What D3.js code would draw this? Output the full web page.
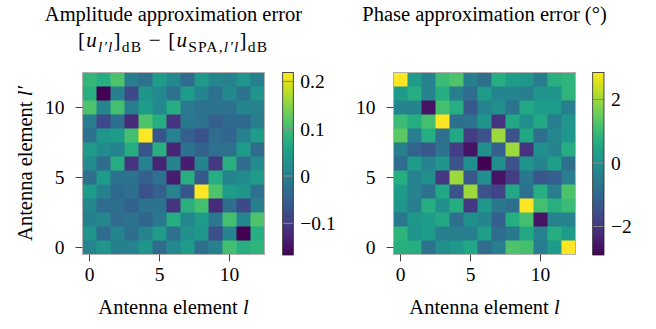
<!DOCTYPE html>
<html>
<head>
<meta charset="utf-8">
<script src="https://cdn.jsdelivr.net/npm/d3@7"></script>
<style>
  html, body { margin: 0; padding: 0; background: #fff; }
  svg { display: block; }
  text { font-family: "Liberation Serif", "Times New Roman", serif; fill: #000; }
</style>
</head>
<body>
<svg id="chart" width="656" height="329"></svg>
<script>
// Antenna element indices (l and l')
const elements = d3.range(13);
const tickVals = [0, 5, 10];

// Amplitude approximation error (dB); rows listed from l' = 12 (top) down to l' = 0
const ampRows = [
  [0.088, 0.072, 0.111, -0.005, -0.024, 0.045, 0.014, -0.032, 0.041, 0.011, 0.003, 0.034, -0.001],
  [0.076, -0.167, -0.001, -0.082, 0.034, 0.014, -0.024, 0.045, 0.007, -0.024, 0.014, -0.020, 0.034],
  [0.111, 0.007, 0.103, -0.005, 0.045, 0.014, 0.072, -0.009, -0.024, -0.020, -0.024, 0.007, 0.003],
  [-0.005, -0.082, -0.028, -0.121, 0.111, 0.072, -0.109, -0.013, -0.020, -0.051, -0.036, -0.036, -0.005],
  [-0.024, 0.034, 0.045, 0.103, 0.219, -0.063, 0.003, -0.051, -0.071, -0.032, -0.040, -0.001, 0.045],
  [0.045, 0.018, 0.007, 0.072, -0.063, 0.076, -0.128, -0.020, -0.047, -0.024, -0.024, 0.045, -0.032],
  [0.018, -0.032, 0.072, -0.109, 0.003, -0.128, 0.007, -0.136, 0.007, -0.105, 0.076, -0.032, 0.018],
  [-0.028, 0.045, -0.020, -0.020, -0.051, -0.024, -0.136, 0.076, -0.059, 0.072, 0.007, 0.018, 0.045],
  [0.045, -0.001, -0.036, -0.028, -0.071, -0.051, 0.007, -0.063, 0.219, 0.111, 0.045, 0.034, -0.024],
  [0.011, -0.032, -0.028, -0.047, -0.020, -0.020, -0.109, 0.076, 0.103, -0.121, -0.028, -0.082, -0.001],
  [-0.001, 0.011, -0.032, -0.020, -0.040, -0.013, 0.072, 0.011, 0.045, -0.013, 0.103, 0.011, 0.111],
  [0.034, -0.032, 0.007, -0.028, 0.007, 0.045, -0.024, 0.026, 0.038, -0.074, 0.007, -0.167, 0.072],
  [0.007, 0.034, -0.001, 0.003, 0.034, -0.032, 0.014, 0.045, -0.028, -0.001, 0.103, 0.076, 0.084]
];

// Phase approximation error (degrees); rows listed from l' = 12 (top) down to l' = 0
const phaseRows = [
  [2.85, 0.26, -0.37, 1.01, 1.24, -0.43, -0.83, 0.67, 0.26, 0.09, -0.49, 0.72, 0.84],
  [0.26, 0.67, -0.31, 0.67, -0.49, -0.89, 0.26, -0.31, -0.31, -0.43, 0.09, 0.09, 0.84],
  [-0.31, -0.31, -2.61, 1.13, 0.67, -1.35, -0.37, -0.03, -0.72, 0.55, 0.26, 0.26, -0.49],
  [1.01, 0.67, 1.13, 2.85, -0.83, -0.72, 0.09, -2.04, 0.55, -0.03, 0.55, -0.49, 0.09],
  [1.41, -0.49, 0.67, -0.83, 0.55, -1.87, -1.46, 1.99, -1.46, 0.55, -0.83, -0.26, 0.15],
  [-0.43, -1.06, -1.35, -0.72, -1.87, -2.61, -0.03, -1.18, 1.99, -2.04, -0.03, -0.31, 0.67],
  [-0.89, 0.26, -0.37, 0.09, -1.46, -0.03, -2.90, -0.03, -1.46, 0.09, -0.31, 0.32, -0.83],
  [0.67, -0.37, -0.03, -1.98, 1.99, -1.35, -0.03, -2.61, -1.87, -0.60, -1.35, -1.18, -0.49],
  [0.26, -0.37, -0.77, 0.55, -1.46, 1.99, -1.46, -1.75, 0.55, -0.77, 0.67, -0.49, 1.24],
  [0.09, -0.43, 0.67, -0.03, 0.67, -1.92, 0.15, -0.60, -0.83, 2.85, 1.13, 0.72, 1.01],
  [-0.60, 0.15, 0.26, 0.55, -0.83, -0.03, -0.31, -1.18, 0.67, 1.13, -2.61, -0.37, -0.37],
  [0.84, 0.09, 0.26, -0.43, -0.43, -0.43, 0.32, -0.89, -0.60, 0.55, -0.37, 0.67, 0.26],
  [0.72, 0.67, -0.72, -0.03, 0.15, 0.55, -0.89, -0.49, 1.24, 1.13, -0.49, 0.26, 2.85]
];

const ampTicks = [-0.1, 0, 0.1, 0.2];
const phaseTicks = [-2, 0, 2];

const svg = d3.select("#chart");
const defs = svg.append("defs");
const fmtMinus = s => String(s).replace("-", "\u2212");
const SERIF = "'Liberation Serif', 'Times New Roman', serif";

function heatmap(opts) {
  const { rows, x0, y0, size, cbX, cbW, ticks, tickFmt, gradId } = opts;
  const g = svg.append("g");
  const x = d3.scaleBand().domain(elements).range([x0, x0 + size]);
  const y = d3.scaleBand().domain(elements).range([y0 + size, y0]);
  const flat = [];
  rows.forEach((r, ri) => r.forEach((v, ci) => flat.push({ l: ci, lp: 12 - ri, v })));
  const ext = d3.extent(flat, d => d.v);
  const color = d3.scaleSequential(d3.interpolateViridis).domain(ext);

  g.selectAll("rect.cell").data(flat).join("rect")
    .attr("class", "cell")
    .attr("x", d => x(d.l))
    .attr("y", d => y(d.lp))
    .attr("width", x.bandwidth() + 0.5)
    .attr("height", y.bandwidth() + 0.5)
    .attr("fill", d => color(d.v));

  g.append("rect")
    .attr("x", x0).attr("y", y0).attr("width", size).attr("height", size)
    .attr("fill", "none").attr("stroke", "#b0b0b0").attr("stroke-width", 1);

  const xAxis = g.append("g").attr("transform", `translate(0,${y0 + size})`)
    .call(d3.axisBottom(x).tickValues(tickVals).tickSize(7).tickPadding(6));
  const yAxis = g.append("g").attr("transform", `translate(${x0},0)`)
    .call(d3.axisLeft(y).tickValues(tickVals).tickSize(7).tickPadding(11));
  [xAxis, yAxis].forEach(a => {
    a.attr("font-family", SERIF);
    a.select(".domain").remove();
    a.selectAll(".tick line").attr("stroke", "#444").attr("stroke-width", 1);
    a.selectAll(".tick text").attr("font-size", 19.5).attr("fill", "#000")
      .style("font-family", SERIF);
  });

  // colorbar
  const grad = defs.append("linearGradient").attr("id", gradId)
    .attr("x1", 0).attr("y1", 1).attr("x2", 0).attr("y2", 0);
  d3.range(0, 1.0001, 0.05).forEach(t => {
    grad.append("stop").attr("offset", t).attr("stop-color", d3.interpolateViridis(t));
  });
  const cbTop = y0, cbBot = y0 + size + 0.5;
  const cy = d3.scaleLinear().domain(ext).range([cbBot, cbTop]);
  g.append("rect").attr("x", cbX).attr("y", cbTop).attr("width", cbW).attr("height", cbBot - cbTop)
    .attr("fill", `url(#${gradId})`);
  g.selectAll("line.cbtick").data(ticks).join("line")
    .attr("class", "cbtick")
    .attr("x1", cbX).attr("x2", cbX + cbW)
    .attr("y1", d => cy(d)).attr("y2", d => cy(d))
    .attr("stroke", "#8a8a8a").attr("stroke-width", 1);
  g.append("rect").attr("x", cbX).attr("y", cbTop).attr("width", cbW).attr("height", cbBot - cbTop)
    .attr("fill", "none").attr("stroke", "#222").attr("stroke-width", 0.8);
  g.selectAll("text.cblab").data(ticks).join("text")
    .attr("class", "cblab")
    .attr("x", cbX + cbW + 7)
    .attr("y", d => cy(d))
    .attr("dy", "0.35em")
    .attr("font-size", 19.5)
    .text(d => tickFmt(d));

  // x label
  const xl = g.append("text").attr("x", x0 + size / 2).attr("y", 314)
    .attr("text-anchor", "middle").attr("font-size", 20.5);
  xl.append("tspan").text("Antenna element ");
  xl.append("tspan").attr("font-style", "italic").text("l");
  return g;
}

heatmap({ rows: ampRows, x0: 82.5, y0: 72.5, size: 182, cbX: 282.7, cbW: 10.6,
  ticks: ampTicks, tickFmt: d => fmtMinus(d === 0 ? "0" : d.toFixed(1)), gradId: "gA" });
heatmap({ rows: phaseRows, x0: 393.5, y0: 72.5, size: 182, cbX: 592.7, cbW: 11.3,
  ticks: phaseTicks, tickFmt: d => fmtMinus(String(d)), gradId: "gP" });

// y label
const yl = svg.append("text")
  .attr("transform", "translate(32,163.5) rotate(-90)")
  .attr("text-anchor", "middle").attr("font-size", 20.5);
yl.append("tspan").text("Antenna element ");
yl.append("tspan").attr("font-style", "italic").text("l\u2032");

// titles
svg.append("text").attr("x", 173.5).attr("y", 21).attr("text-anchor", "middle")
  .attr("font-size", 20.5).text("Amplitude approximation error");
const t2 = svg.append("text").attr("x", 78).attr("y", 47)
  .attr("font-size", 21).attr("textLength", 189).attr("lengthAdjust", "spacing");
const sub = 15.5, dd = 5;
t2.append("tspan").text("[");
t2.append("tspan").attr("font-style", "italic").text("u");
t2.append("tspan").attr("font-style", "italic").attr("font-size", sub).attr("dy", dd).text("l\u2032l");
t2.append("tspan").attr("dy", -dd).text("]");
t2.append("tspan").attr("font-size", sub).attr("dy", dd).text("dB");
t2.append("tspan").attr("dy", -dd).text(" \u2212 [");
t2.append("tspan").attr("font-style", "italic").text("u");
t2.append("tspan").attr("font-size", sub).attr("dy", dd).text("SPA,");
t2.append("tspan").attr("font-style", "italic").attr("font-size", sub).text("l\u2032l");
t2.append("tspan").attr("dy", -dd).text("]");
t2.append("tspan").attr("font-size", sub).attr("dy", dd).text("dB");

svg.append("text").attr("x", 484.5).attr("y", 21).attr("text-anchor", "middle")
  .attr("font-size", 20.5).text("Phase approximation error (\u00B0)");
</script>
</body>
</html>
